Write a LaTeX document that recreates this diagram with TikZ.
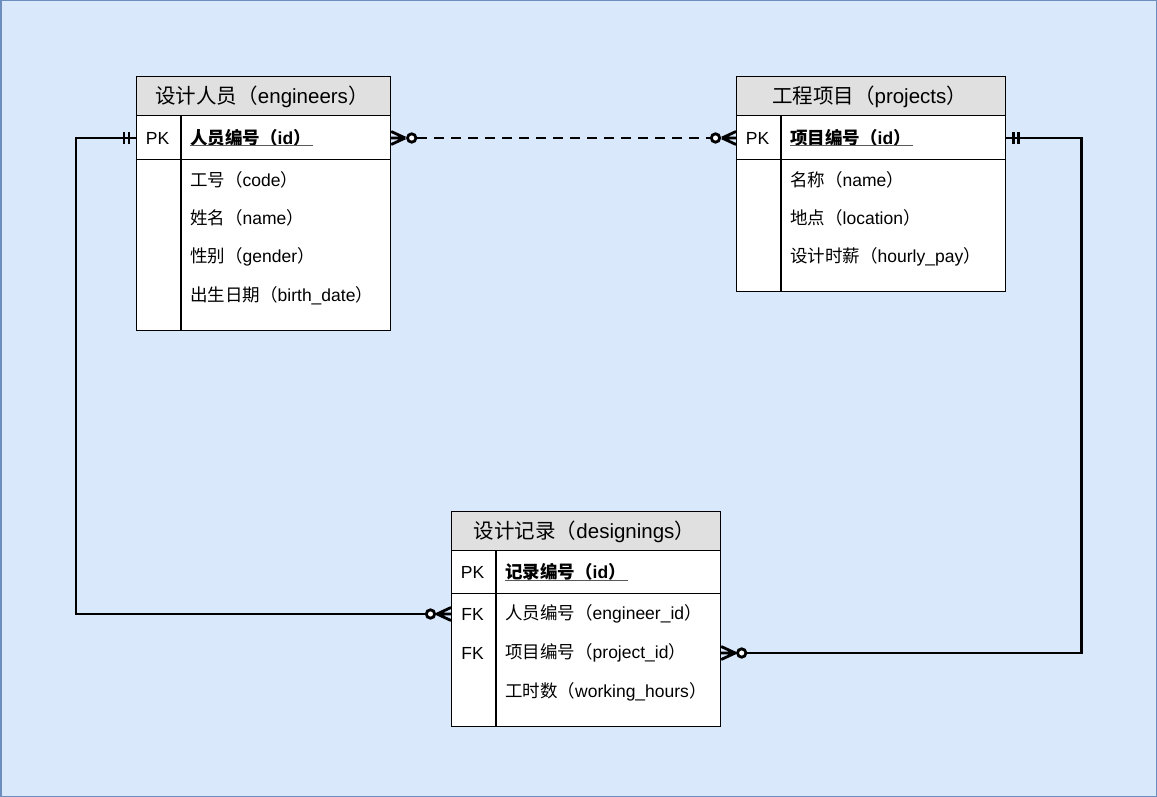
\documentclass[tikz,border=0pt]{standalone}
\usepackage{fontspec}
\setmainfont{Liberation Sans}
\newfontfamily\cjk{Noto Sans CJK SC}
\usetikzlibrary{calc}
\newcommand{\zh}[1]{{\cjk #1}}
\definecolor{bgfill}{HTML}{DAE8FC}
\definecolor{bgline}{HTML}{6C8EBF}
\definecolor{titlegray}{HTML}{E0E0E0}
% zero-to-many end: #1 edge point, #2 direction (+1 / -1) away from entity
\newcommand{\zeromany}[2]{%
  \draw[conn] ($(#1)+(#2*14,0)$) -- ($(#1)+(0,-6.5)$)
              ($(#1)+(#2*14,0)$) -- ($(#1)+(0,6.5)$)
              ($(#1)+(#2*14,0)$) -- (#1);
  \draw[conn, fill=white] ($(#1)+(#2*20.5,0)$) circle[radius=4.2pt];
}
% mandatory-one end
\newcommand{\mandone}[2]{%
  \draw[conn] ($(#1)+(#2*7,-6)$) -- ($(#1)+(#2*7,6)$)
              ($(#1)+(#2*12,-6)$) -- ($(#1)+(#2*12,6)$);
}
\begin{document}
\begin{tikzpicture}[x=1pt,y=-1pt,
  titlebox/.style={draw=black, fill=titlegray, line width=1.2pt, anchor=north west, inner sep=0pt},
  titletext/.style={anchor=center, inner sep=0pt, font=\fontsize{20.5}{22}\selectfont},
  rowbox/.style={draw=black, fill=white, line width=1.2pt, anchor=north west, inner sep=0pt},
  attr/.style={anchor=west, inner sep=0pt, font=\fontsize{17.5}{19}\selectfont},
  keyt/.style={anchor=center, inner sep=0pt, font=\fontsize{17.5}{19}\selectfont},
  divider/.style={line width=1.2pt, draw=black},
  uline/.style={line width=1pt, draw=black!65},
  conn/.style={line width=2.8pt, draw=black},
  dconn/.style={line width=2.8pt, draw=black, dash pattern=on 10pt off 7pt}
]
\useasboundingbox (0,0) rectangle (1157,797);
\path[fill=bgfill, draw=bgline, line width=1.5pt] (0.75,0.75) rectangle (1156.25,796.25);

% ---------- engineers ----------
\node[titlebox, minimum width=254pt, minimum height=39pt] (eT) at (136,76) {};
\node[titletext] (eTt) at (262,97) {\zh{设计人员（}engineers\zh{）}};
\node[rowbox, minimum width=254pt, minimum height=44pt] (eP) at (136,115) {};
\node[rowbox, minimum width=254pt, minimum height=171pt] (eB) at (136,159) {};
\draw[divider] (181,115) -- (181,330);
\node[keyt] (eK) at (157.5,138) {PK};
\node[attr] (e0) at (190,138) {\textbf{\zh{人员编号（}id\zh{）}}};
\draw[uline] (190,145.5) -- (313,145.5);
\node[attr] (e1) at (190,180) {\zh{工号（}code\zh{）}};
\node[attr] (e2) at (190,218) {\zh{姓名（}name\zh{）}};
\node[attr] (e3) at (190,257) {\zh{性别（}gender\zh{）}};
\node[attr] (e4) at (190,296) {\zh{出生日期（}birth\_date\zh{）}};

% ---------- projects ----------
\node[titlebox, minimum width=269pt, minimum height=39pt] (pT) at (736,76) {};
\node[titletext] (pTt) at (869.5,97) {\zh{工程项目（}projects\zh{）}};
\node[rowbox, minimum width=269pt, minimum height=44pt] (pP) at (736,115) {};
\node[rowbox, minimum width=269pt, minimum height=132pt] (pB) at (736,159) {};
\draw[divider] (781,115) -- (781,291);
\node[keyt] (pK) at (757.5,138) {PK};
\node[attr] (p0) at (790,138) {\textbf{\zh{项目编号（}id\zh{）}}};
\draw[uline] (790,145.5) -- (913,145.5);
\node[attr] (p1) at (790,180) {\zh{名称（}name\zh{）}};
\node[attr] (p2) at (790,218) {\zh{地点（}location\zh{）}};
\node[attr] (p3) at (790,257) {\zh{设计时薪（}hourly\_pay\zh{）}};

% ---------- designings ----------
\node[titlebox, minimum width=269pt, minimum height=39pt] (dT) at (451,511) {};
\node[titletext] (dTt) at (584.5,532) {\zh{设计记录（}designings\zh{）}};
\node[rowbox, minimum width=269pt, minimum height=43pt] (dP) at (451,550) {};
\node[rowbox, minimum width=269pt, minimum height=133pt] (dB) at (451,593) {};
\draw[divider] (496,550) -- (496,726);
\node[keyt] (dK) at (472.5,572) {PK};
\node[attr] (d0) at (505,572) {\textbf{\zh{记录编号（}id\zh{）}}};
\draw[uline] (505,580) -- (628,580);
\node[keyt] (dK1) at (472.5,614) {FK};
\node[attr] (d1) at (505,614) {\zh{人员编号（}engineer\_id\zh{）}};
\node[keyt] (dK2) at (472.5,653) {FK};
\node[attr] (d2) at (505,653) {\zh{项目编号（}project\_id\zh{）}};
\node[attr] (d3) at (505,692) {\zh{工时数（}working\_hours\zh{）}};

% ---------- connectors ----------
\coordinate (eL) at (eP.west |- e0);
\coordinate (eR) at (eP.east |- e0);
\coordinate (pL) at (pP.west |- p0);
\coordinate (pR) at (pP.east |- p0);
\coordinate (dL) at (dB.west |- d1);
\coordinate (dR) at (dB.east |- d2);

\draw[conn] (eL) -- ++(-60,0) |- (dL);
\draw[conn] (pR) -- ++(75,0) |- (dR);
\draw[dconn] ($(eR)+(26,0)$) -- ($(pL)+(-26,0)$);

\mandone{eL}{-1}
\mandone{pR}{1}
\zeromany{dL}{-1}
\zeromany{dR}{1}
\zeromany{eR}{1}
\zeromany{pL}{-1}
\end{tikzpicture}
\end{document}
